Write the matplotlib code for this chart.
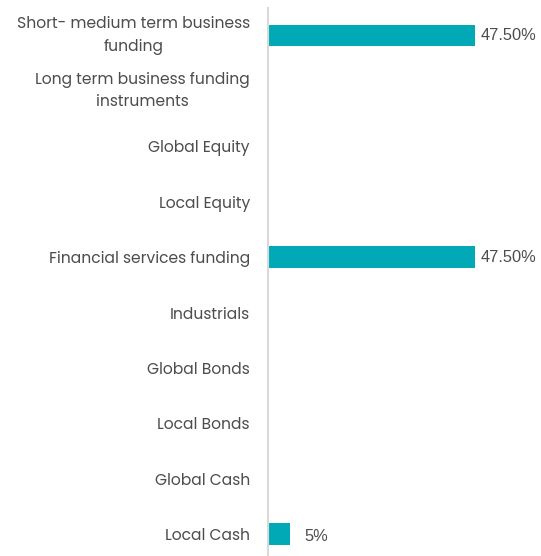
import matplotlib.pyplot as plt

plt.rcParams['font.family'] = ['Poppins', 'Lato', 'DejaVu Sans']

categories = [
    "Short- medium term business\nfunding",
    "Long term business funding\ninstruments",
    "Global Equity",
    "Local Equity",
    "Financial services funding",
    "Industrials",
    "Global Bonds",
    "Local Bonds",
    "Global Cash",
    "Local Cash",
]
values = [47.5, 0, 0, 0, 47.5, 0, 0, 0, 0, 5]
value_labels = ["47.50%", "", "", "", "47.50%", "", "", "", "", "5%"]

bar_color = "#00a9b5"
text_color = "#4d4d4d"

fig = plt.figure(figsize=(5.41, 5.56), dpi=100)
ax = fig.add_axes([0.4954, -0.0108, 0.5046, 0.9968])

y = range(len(categories))
ax.barh(y, values, height=0.39, color=bar_color)
ax.set_ylim(len(categories) - 0.5, -0.5)
ax.set_xlim(0, 273 / 4.36)

for i, (v, lab) in enumerate(zip(values, value_labels)):
    if lab:
        off = 15 if v < 10 else 6
        dy = -2 if v < 10 else 0
        ax.annotate(lab, (v, i), xytext=(off * 0.72, dy * 0.72),
                    textcoords='offset points', va='center', ha='left',
                    fontsize=11.8, color=text_color,
                    family=['Liberation Sans', 'DejaVu Sans'])

ax.set_yticks(list(y))
ax.set_yticklabels(categories, fontsize=11.2, color=text_color,
                   multialignment='center', linespacing=1.55)
ax.tick_params(axis='y', length=0, pad=13)
ax.set_xticks([])
# two-line labels sit a little high in the original
for t in ax.get_yticklabels()[:2]:
    t.set_y(t.get_position()[1])
    t.set_va('center')

for s in ['top', 'right', 'bottom']:
    ax.spines[s].set_visible(False)
ax.spines['left'].set_color('#d9d9d9')
ax.spines['left'].set_linewidth(1.5)

fig.savefig('out.png', dpi=100)
